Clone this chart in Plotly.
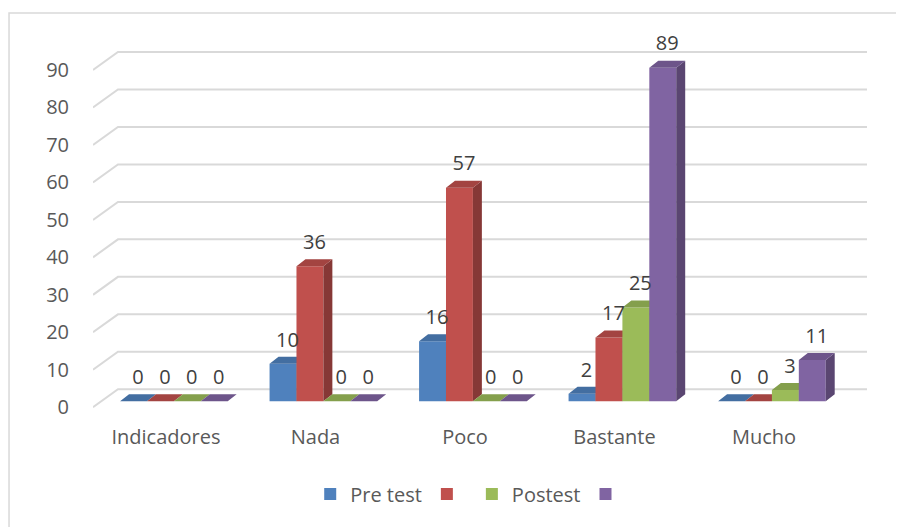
import plotly.graph_objects as go

categories = ["Indicadores", "Nada", "Poco", "Bastante", "Mucho"]
pre_test = [0, 10, 16, 2, 0]
serie_2 = [0, 36, 57, 17, 0]
postest = [0, 0, 0, 25, 3]
serie_4 = [0, 0, 0, 89, 11]
y_ticks = [0, 10, 20, 30, 40, 50, 60, 70, 80, 90]

series = [
    ("Pre test", pre_test, "#4F81BD", "#436EA1", "#375A84"),
    ("", serie_2, "#C0504D", "#A34441", "#863836"),
    ("Postest", postest, "#9BBB59", "#849F4C", "#6D833E"),
    ("", serie_4, "#8064A2", "#6D558A", "#5A4671"),
]

# fake 3d geometry (x in category units, y in value units)
bw = 0.18       # bar front width
dx = 0.06       # bar depth, x
dy = 1.87       # bar depth, y
base_x = 0.053  # bars sit a bit behind the floor front edge
base_y = 1.6
lab_pad = 1.4   # extra gap above bar top for the value labels
x_min, x_max = -0.488, 4.689
wall_dx, wall_dy = 0.167, 4.8
font = "'Open Sans', sans-serif"

fig = go.Figure()

# back wall gridlines with the diagonal floor/side edge
gx, gy = [], []
for t in y_ticks:
    gx += [x_min, x_min + wall_dx, x_max, None]
    gy += [t, t + wall_dy, t + wall_dy, None]
fig.add_trace(go.Scatter(x=gx, y=gy, mode="lines", line=dict(color="#D9D9D9", width=2),
                         hoverinfo="skip", showlegend=False))

lab_x, lab_y, lab_t = [], [], []
for j, (name, vals, c_front, c_top, c_side) in enumerate(series):
    fx, fy, sx, sy, tx, ty = [], [], [], [], [], []
    for i, v in enumerate(vals):
        xl = i + base_x - 2 * bw + j * bw
        xr = xl + bw
        y0, y1 = base_y, base_y + v
        fx += [xl, xr, xr, xl, xl, None]
        fy += [y0, y0, y1, y1, y0, None]
        sx += [xr, xr + dx, xr + dx, xr, xr, None]
        sy += [y0, y0 + dy, y1 + dy, y1, y0, None]
        tx += [xl, xr, xr + dx, xl + dx, xl, None]
        ty += [y1, y1, y1 + dy, y1 + dy, y1, None]
        lab_x.append((xl + xr + dx) / 2)
        lab_y.append(y1 + dy + lab_pad)
        lab_t.append(str(v))
    fig.add_trace(go.Scatter(x=fx, y=fy, fill="toself", fillcolor=c_front, mode="lines",
                             line=dict(width=0, color=c_front), hoverinfo="skip", showlegend=False))
    fig.add_trace(go.Scatter(x=sx, y=sy, fill="toself", fillcolor=c_side, mode="lines",
                             line=dict(width=0, color=c_side), hoverinfo="skip", showlegend=False))
    fig.add_trace(go.Scatter(x=tx, y=ty, fill="toself", fillcolor=c_top, mode="lines",
                             line=dict(width=0, color=c_top), hoverinfo="skip", showlegend=False))
    # legend entry
    fig.add_trace(go.Scatter(x=[None], y=[None], mode="markers", name=name,
                             marker=dict(symbol="square", size=12, color=c_front)))

fig.add_trace(go.Scatter(x=lab_x, y=lab_y, mode="text", text=lab_t, textposition="top center",
                         textfont=dict(size=20, color="#404040", family=font), cliponaxis=False,
                         hoverinfo="skip", showlegend=False))

# page body has an 8px margin, so the figure is a bit smaller than the window
fig.update_layout(
    width=896, height=519,
    margin=dict(l=85, r=37, t=32, b=116, autoexpand=False),
    paper_bgcolor="white", plot_bgcolor="white",
    font=dict(family=font, size=20, color="#595959"),
    xaxis=dict(range=[x_min, x_max], tickvals=list(range(len(categories))), ticktext=categories,
               showgrid=False, zeroline=False, showline=False, ticks="", ticklabelstandoff=12),
    yaxis=dict(range=[-1, 98], tickvals=y_ticks, showgrid=False, zeroline=False, showline=False,
               ticks="", ticklabelstandoff=23),
    legend=dict(orientation="h", x=0.488, xanchor="center", y=-0.224, yanchor="middle",
                font=dict(size=20, color="#595959"), itemwidth=30),
    shapes=[dict(type="rect", xref="paper", yref="paper", x0=-0.1085, x1=1.2, y0=-0.5, y1=1.073,
                 line=dict(color="#D9D9D9", width=1.5), layer="below")],
)

fig.write_html("out.html")
